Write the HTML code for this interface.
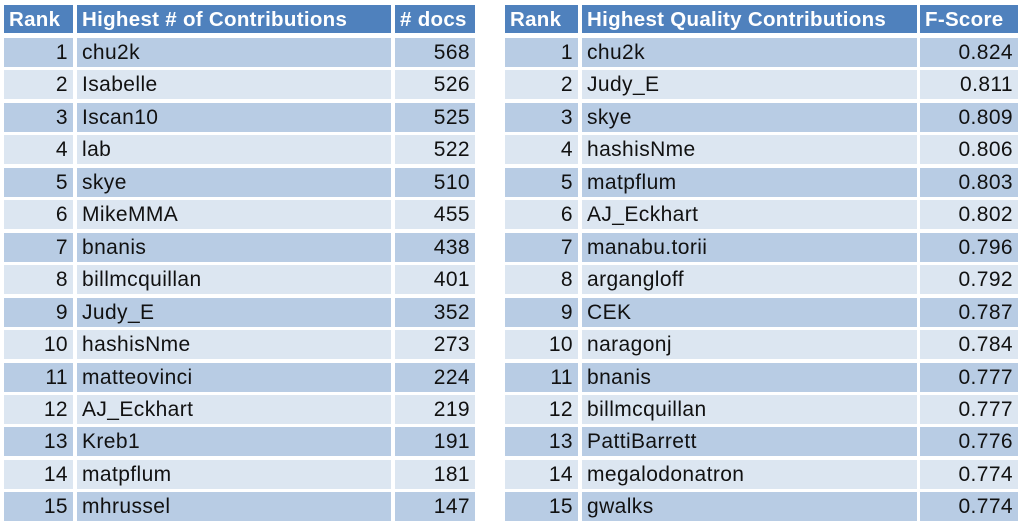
<!DOCTYPE html>
<html><head><meta charset="utf-8"><style>
body{margin:0;width:1024px;height:531px;background:#fff;position:relative;overflow:hidden;font-family:"Liberation Sans",Arial,sans-serif;}
.c{position:absolute;height:29px;line-height:30px;font-size:21px;letter-spacing:0.4px;color:#111;box-sizing:border-box;padding:0 5px 0 5px;white-space:nowrap;overflow:hidden}
.h{background:#4F81BD;color:#fff;font-weight:bold;height:28px;line-height:30px;top:5px;font-size:20.5px;letter-spacing:0.3px}
.r{text-align:right}
</style></head><body>
<script>
const ranks=[1,2,3,4,5,6,7,8,9,10,11,12,13,14,15];
const contribNames=["chu2k","Isabelle","Iscan10","lab","skye","MikeMMA","bnanis","billmcquillan","Judy_E","hashisNme","matteovinci","AJ_Eckhart","Kreb1","matpflum","mhrussel"];
const contribDocs=["568","526","525","522","510","455","438","401","352","273","224","219","191","181","147"];
const qualityNames=["chu2k","Judy_E","skye","hashisNme","matpflum","AJ_Eckhart","manabu.torii","argangloff","CEK","naragonj","bnanis","billmcquillan","PattiBarrett","megalodonatron","gwalks"];
const qualityScores=["0.824","0.811","0.809","0.806","0.803","0.802","0.796","0.792","0.787","0.784","0.777","0.777","0.776","0.774","0.774"];
const tables=[
 {name:"contributions-table",heads:["Rank","Highest # of Contributions","# docs"],cols:[[4,69],[77,314],[395,80]],names:contribNames,vals:contribDocs},
 {name:"quality-table",heads:["Rank","Highest Quality Contributions","F-Score"],cols:[[505,73],[582,335],[920,98]],names:qualityNames,vals:qualityScores}
];
function cell(txt,x,w,top,cls,name){
 const d=document.createElement('div');
 d.className='c '+cls;
 d.style.left=x+'px';d.style.width=w+'px';
 if(top!==null)d.style.top=top+'px';
 d.textContent=txt;
 
 
 document.body.appendChild(d);return d;
}
tables.forEach(t=>{
 t.heads.forEach((h,j)=>cell(h,t.cols[j][0],t.cols[j][1],null,'h','header-'+j));
 ranks.forEach((rk,i)=>{
  const top=Math.round(38+i*32.45);
  const bg=i%2===0?'#B8CCE4':'#DCE6F1';
  const vals=[rk,t.names[i],t.vals[i]];
  vals.forEach((v,j)=>{
   const c=cell(v,t.cols[j][0],t.cols[j][1],top,j===1?'':'r',t.name+'-row'+rk+'-col'+j);
   c.style.background=bg;
  });
 });
});
</script>
</body></html>
